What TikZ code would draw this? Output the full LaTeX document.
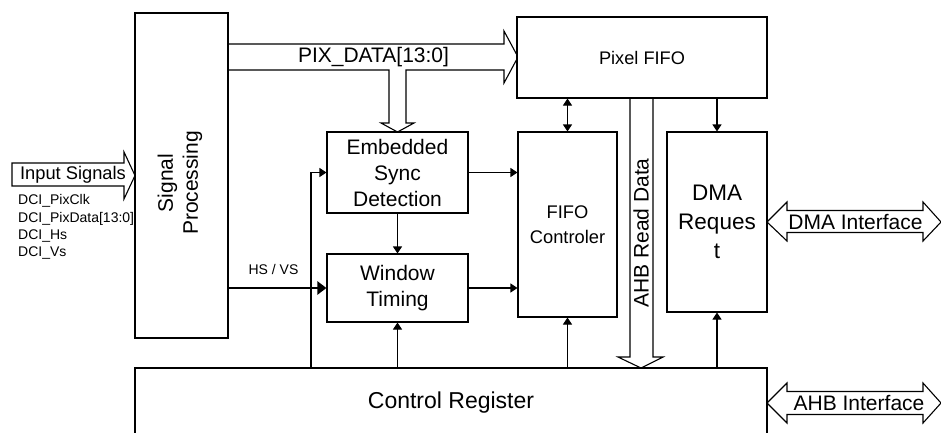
\documentclass[tikz,border=0pt]{standalone}
\usepackage{fontspec}
\setmainfont{Liberation Sans}
\usetikzlibrary{arrows.meta}
\begin{document}
\begin{tikzpicture}[x=1pt,y=-1pt,
  box/.style={draw, line width=1.1pt, inner sep=0pt, align=center, fill=white},
  fat/.style={draw, line width=1.1pt, line join=miter, fill=white},
  conn/.style={line width=1.1pt, -{Triangle[length=7pt,width=9pt]}},
  biconn/.style={line width=1.1pt, {Triangle[length=7pt,width=9pt]}-{Triangle[length=7pt,width=9pt]}},
  thickconn/.style={line width=2.2pt, -{Triangle[length=9pt,width=13pt]}},
  txt/.style={inner sep=0pt, align=center},
  f21/.style={font=\fontsize{21}{26}\selectfont},
]
\useasboundingbox (0,0) rectangle (941,432);
\clip (0,0) rectangle (941,432);
\fill[white] (0,0) rectangle (941,432);

% fat arrows
\draw[fat] (228,44) -- (504,44) -- (504,31) -- (518,57) -- (504,83) -- (504,70)
  -- (406,70) -- (406,123) -- (414,123) -- (397.5,132) -- (381,123) -- (389,123)
  -- (389,70) -- (228,70);
\node[txt, f21] (pixdata) at (373.5,57) {PIX\_DATA[13:0]};

\draw[fat] (630,98) -- (630,357) -- (618,357) -- (641,368) -- (663,357) -- (653,357) -- (653,98);
\node[txt, f21, rotate=90] (ahbrd) at (641,233) {AHB Read Data};

\draw[fat] (12,163) -- (124,163) -- (124,152) -- (135,175.5) -- (124,199) -- (124,186) -- (12,186) -- cycle;
\node[txt, font=\fontsize{18.3}{22}\selectfont] (insig) at (73,175) {Input Signals};

\draw[fat] (767,222) -- (787,202) -- (787,210.5) -- (923,210.5) -- (923,202) -- (941,222)
  -- (923,241) -- (923,232.5) -- (787,232.5) -- (787,241) -- cycle;
\node[txt, f21] (dmaif) at (855.5,222) {DMA Interface};

\draw[fat] (767,403) -- (787,383) -- (787,391.5) -- (923,391.5) -- (923,383) -- (941,403)
  -- (923,423) -- (923,414.5) -- (787,414.5) -- (787,423) -- cycle;
\node[txt, f21] (ahbif) at (859,403) {AHB Interface};

% boxes
\node[box, minimum width=93pt, minimum height=325pt] (sp) at (181.5,175.5) {};
\node[txt, f21, rotate=90, font=\fontsize{21}{25}\selectfont] (sptext) at (180,183) {Signal\\Processing};
\node[box, minimum width=250pt, minimum height=81pt, font=\fontsize{18.2}{22}\selectfont] (pf) at (642,57.5) {Pixel FIFO};
\node[box, f21, minimum width=141pt, minimum height=81pt] (esd) at (397.5,172.5) {Embedded\\Sync\\Detection};
\node[box, f21, minimum width=141pt, minimum height=68pt] (wt) at (397.5,288) {Window\\Timing};
\node[box, minimum width=99pt, minimum height=185pt, font=\fontsize{18.3}{25}\selectfont] (fc) at (567.5,224.5) {FIFO\\Controler};
\node[box, minimum width=100pt, minimum height=180pt, font=\fontsize{22.5}{29}\selectfont] (dma) at (717,222) {DMA\\Reques\\t};
\node[box, minimum width=632pt, minimum height=70pt, font=\fontsize{23}{28}\selectfont] (cr) at (451,403) {Control Register};

% small labels
\node[inner sep=0pt, anchor=west, align=left, font=\fontsize{14}{17.3}\selectfont] (dci) at (18,227)
  {DCI\_PixClk\\DCI\_PixData[13:0]\\DCI\_Hs\\DCI\_Vs};
\node[txt, font=\fontsize{14}{17}\selectfont] (hsvs) at (273.5,269) {HS / VS};

% connectors
\draw[biconn] (fc.north |- pf.south) -- (fc.north);
\draw[conn] (dma.north |- pf.south) -- (dma.north);
\draw[conn] (esd.east) -- (esd.east -| fc.west);
\draw[conn] (wt.east) -- (wt.east -| fc.west);
\draw[conn] (esd.south) -- (wt.north);
\draw[conn] (wt.south |- cr.north) -- (wt.south);
\draw[conn] (fc.south |- cr.north) -- (fc.south);
\draw[conn] (dma.south |- cr.north) -- (dma.south);
\coordinate (crtap) at (311,368);
\draw[conn] (crtap) |- (esd.west);
\draw[thickconn] (wt.west -| sp.east) -- (wt.west);
\end{tikzpicture}
\end{document}
